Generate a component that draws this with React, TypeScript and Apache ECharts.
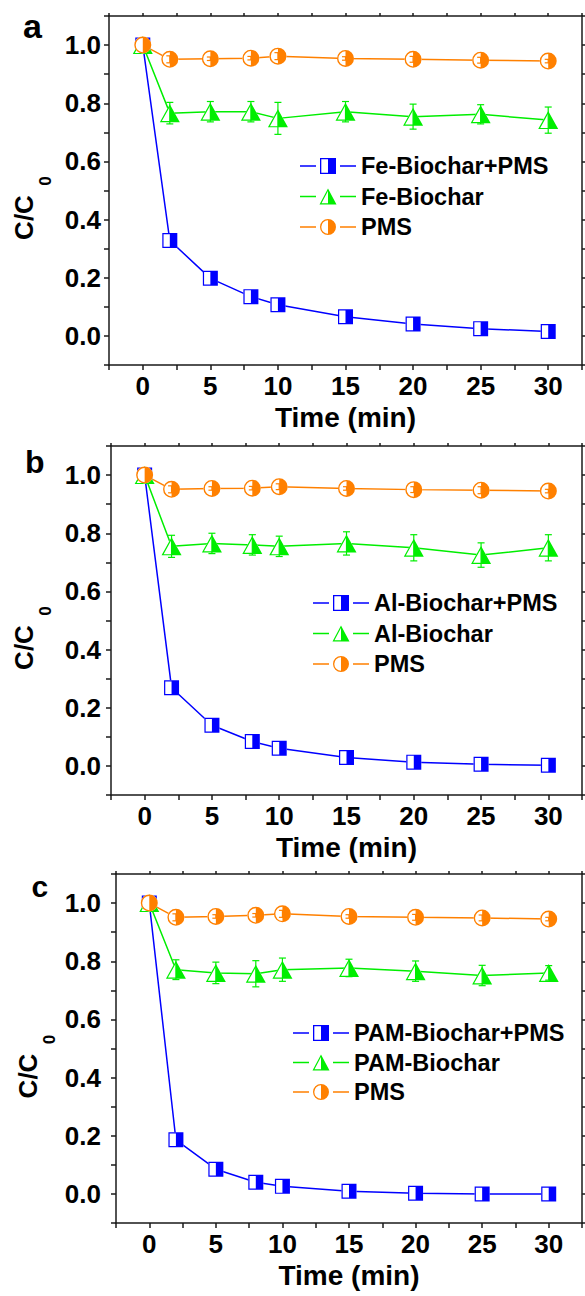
import React, { useEffect, useRef } from 'react';
import * as echarts from 'echarts';

// ---------------- data ----------------
const times = [0, 2, 5, 8, 10, 15, 20, 25, 30];
const xTickValues = [0, 5, 10, 15, 20, 25, 30];
const yTickValues = [0, 0.2, 0.4, 0.6, 0.8, 1.0];
const panelLetters = ['a', 'b', 'c'];
const xTitle = 'Time (min)';
const yTitleMain = 'C/C';
const yTitleSub = '0';

const namesA = ['Fe-Biochar+PMS', 'Fe-Biochar', 'PMS'];
const namesB = ['Al-Biochar+PMS', 'Al-Biochar', 'PMS'];
const namesC = ['PAM-Biochar+PMS', 'PAM-Biochar', 'PMS'];

const feBiocharPms = [1.0, 0.328, 0.198, 0.135, 0.107, 0.066, 0.041, 0.025, 0.015];
const feBiochar = [1.0, 0.766, 0.771, 0.771, 0.748, 0.771, 0.754, 0.762, 0.742];
const feBiocharErr = [0, 0.037, 0.035, 0.035, 0.055, 0.035, 0.043, 0.033, 0.045];
const pmsA = [1.0, 0.951, 0.953, 0.955, 0.962, 0.954, 0.951, 0.948, 0.945];
const pmsAErr = [0, 0.012, 0.006, 0.006, 0.012, 0.006, 0.01, 0.01, 0.006];

const alBiocharPms = [1.0, 0.269, 0.14, 0.084, 0.061, 0.029, 0.013, 0.006, 0.002];
const alBiochar = [1.0, 0.755, 0.765, 0.76, 0.755, 0.765, 0.75, 0.725, 0.75];
const alBiocharErr = [0, 0.038, 0.035, 0.035, 0.035, 0.04, 0.045, 0.042, 0.045];
const pmsB = [1.0, 0.951, 0.954, 0.955, 0.96, 0.954, 0.95, 0.948, 0.945];
const pmsBErr = [0, 0.012, 0.006, 0.006, 0.01, 0.006, 0.01, 0.012, 0.006];

const pamBiocharPms = [1.0, 0.186, 0.085, 0.04, 0.026, 0.009, 0.002, 0.0, 0.0];
const pamBiochar = [1.0, 0.771, 0.76, 0.757, 0.771, 0.777, 0.766, 0.751, 0.76];
const pamBiocharErr = [0, 0.034, 0.037, 0.045, 0.04, 0.03, 0.035, 0.035, 0.025];
const pmsC = [1.0, 0.951, 0.954, 0.958, 0.963, 0.954, 0.951, 0.949, 0.945];
const pmsCErr = [0, 0.012, 0.006, 0.006, 0.012, 0.006, 0.01, 0.01, 0.006];

// ---------------- styles / layout ----------------
const BLUE = '#0000ff';
const GREEN = '#00ee00';
const ORANGE = '#ff8000';
const AXIS = '#1a1a1a';
const FONT = '"Liberation Sans", Arial, Helvetica, sans-serif';

const SQ = 'path://M0 0H16V16H0Z M1.3 1.3V14.7H8V1.3Z';
const SQ_MASK = 'path://M0 0H16V16H0Z';
const CIRC = 'path://M8 0A8 8 0 0 1 8 16A8 8 0 0 1 8 0Z M8 1.3A6.7 6.7 0 0 0 8 14.7Z';
const CIRC_MASK = 'path://M8 0A8 8 0 0 1 8 16A8 8 0 0 1 8 0Z';
const TRI = 'path://M10 0L20 18L0 18Z M10 2.5L2.05 16.8L10 16.8Z';
const TRI_MASK = 'path://M10 0L20 18L0 18Z';

const LEG_SQ = 'path://M0 7.25H16V8.75H0Z M20 0H36V16H20Z M21.3 1.3V14.7H28V1.3Z M40 7.25H56V8.75H40Z';
const LEG_TRI = 'path://M0 7.25H16V8.75H0Z M28 0L36.5 16L19.5 16Z M28 2.6L21.5 14.8L28 14.8Z M40 7.25H56V8.75H40Z';
const LEG_CIRC = 'path://M0 7.25H16V8.75H0Z M28 0A8 8 0 0 1 28 16A8 8 0 0 1 28 0Z M28 1.3A6.7 6.7 0 0 0 28 14.7Z M40 7.25H56V8.75H40Z';

const layouts = [
  { grid: { left: 109, top: 16, width: 476, height: 349 }, yMargin: 8, legend: { left: 300, top: 154, gap: 6.5 }, letter: { x: 23, y: 25.5, size: 34 }, yTitle: { x: 24, y: 217.5, sx: 45.5, sy: 181 } },
  { grid: { left: 111, top: 446, width: 476, height: 349 }, yMargin: 10, legend: { left: 313, top: 591, gap: 6.5 }, letter: { x: 25, y: 462, size: 32 }, yTitle: { x: 24, y: 647.5, sx: 45.5, sy: 611 } },
  { grid: { left: 116, top: 874, width: 476, height: 349 }, yMargin: 15, legend: { left: 293, top: 1021, gap: 5.5 }, letter: { x: 31.5, y: 886.5, size: 30 }, yTitle: { x: 28, y: 1076, sx: 49.5, sy: 1039.5 } },
];

const panels = [
  { names: namesA, sets: [feBiocharPms, feBiochar, pmsA], errs: [null, feBiocharErr, pmsAErr] },
  { names: namesB, sets: [alBiocharPms, alBiochar, pmsB], errs: [null, alBiocharErr, pmsBErr] },
  { names: namesC, sets: [pamBiocharPms, pamBiochar, pmsC], errs: [null, pamBiocharErr, pmsCErr] },
];

const kinds = [
  { color: BLUE, marker: SQ, mask: SQ_MASK, size: [15, 15], legendIcon: LEG_SQ },
  { color: GREEN, marker: TRI, mask: TRI_MASK, size: [20, 18], legendIcon: LEG_TRI },
  { color: ORANGE, marker: CIRC, mask: CIRC_MASK, size: [17, 17], legendIcon: LEG_CIRC },
];

function errRender(color: string) {
  return (params: any, api: any) => {
    const x = api.value(0);
    const y = api.value(1);
    const e = api.value(2);
    if (!e) return { type: 'group', children: [] };
    const top = api.coord([x, y + e]);
    const bot = api.coord([x, y - e]);
    const hw = 3.5;
    const style = { stroke: color, lineWidth: 1.2 };
    return {
      type: 'group',
      children: [
        { type: 'line', shape: { x1: top[0], y1: top[1], x2: bot[0], y2: bot[1] }, style },
        { type: 'line', shape: { x1: top[0] - hw, y1: top[1], x2: top[0] + hw, y2: top[1] }, style },
        { type: 'line', shape: { x1: bot[0] - hw, y1: bot[1], x2: bot[0] + hw, y2: bot[1] }, style },
      ],
    };
  };
}

function buildOption() {
  const grid: any[] = [];
  const xAxis: any[] = [];
  const yAxis: any[] = [];
  const series: any[] = [];
  const legend: any[] = [];
  const graphic: any[] = [];
  const axisLineStyle = { color: AXIS, width: 1.5 };
  const labelFont = { fontFamily: FONT, fontWeight: 'bold', fontSize: 26, color: '#000' };

  panels.forEach((panel, p) => {
    const L = layouts[p];
    grid.push({ ...L.grid, containLabel: false });
    const xBase = {
      type: 'value', gridIndex: p, min: -2.5, max: 32.5, interval: 2.5,
      splitLine: { show: false },
      axisLine: { show: true, onZero: false, lineStyle: axisLineStyle },
    };
    xAxis.push({
      ...xBase, position: 'bottom',
      axisTick: { show: true, inside: false, length: 5, lineStyle: axisLineStyle },
      axisLabel: {
        ...labelFont, margin: 8,
        formatter: (v: number) => (xTickValues.some((t) => Math.abs(t - v) < 1e-6) ? String(Math.round(v)) : ''),
      },
      name: xTitle, nameLocation: 'middle', nameGap: 38.5,
      nameTextStyle: { fontFamily: FONT, fontWeight: 'bold', fontSize: 28, color: '#000' },
    });
    xAxis.push({
      ...xBase, position: 'top',
      axisTick: { show: true, inside: false, length: 3, lineStyle: axisLineStyle },
      axisLabel: { show: false },
    });
    const yBase = {
      type: 'value', gridIndex: p, min: -0.1, max: 1.1, interval: 0.1,
      splitLine: { show: false },
      axisLine: { show: true, onZero: false, lineStyle: axisLineStyle },
    };
    yAxis.push({
      ...yBase, position: 'left',
      axisTick: { show: true, inside: false, length: 5, lineStyle: axisLineStyle },
      axisLabel: {
        ...labelFont, margin: L.yMargin,
        formatter: (v: number) => (yTickValues.some((t) => Math.abs(t - v) < 1e-6) ? v.toFixed(1) : ''),
      },
    });
    yAxis.push({
      ...yBase, position: 'right',
      axisTick: { show: true, inside: false, length: 3, lineStyle: axisLineStyle },
      axisLabel: { show: false },
    });

    const xi = p * 2;
    const yi = p * 2;
    // lines
    panel.sets.forEach((vals, k) => {
      series.push({
        type: 'line', name: panel.names[k], xAxisIndex: xi, yAxisIndex: yi,
        data: times.map((t, i) => [t, vals[i]]),
        symbol: kinds[k].marker, symbolSize: kinds[k].size, showSymbol: false,
        lineStyle: { color: kinds[k].color, width: 1.5 },
        itemStyle: { color: kinds[k].color },
        z: 2, silent: true,
      });
    });
    panel.sets.forEach((vals, k) => {
      const data = times.map((t, i) => [t, vals[i]]);
      series.push({
        type: 'scatter', xAxisIndex: xi, yAxisIndex: yi, data,
        symbol: kinds[k].mask, symbolSize: kinds[k].size,
        itemStyle: { color: '#ffffff', opacity: 1 }, z: 3 + k * 2, silent: true,
      });
      series.push({
        type: 'scatter', xAxisIndex: xi, yAxisIndex: yi, data,
        symbol: kinds[k].marker, symbolSize: kinds[k].size,
        itemStyle: { color: kinds[k].color, opacity: 1, borderWidth: 0 }, z: 4 + k * 2, silent: true,
      });
      const errs = panel.errs[k];
      if (errs) {
        series.push({
          type: 'custom', xAxisIndex: xi, yAxisIndex: yi,
          data: times.map((t, i) => [t, vals[i], errs[i]]),
          encode: { x: 0, y: 1 },
          renderItem: errRender(kinds[k].color),
          z: 4 + k * 2, silent: true,
        });
      }
    });

    legend.push({
      orient: 'vertical', left: L.legend.left, top: L.legend.top, padding: 0,
      itemWidth: 56, itemHeight: 16, itemGap: L.legend.gap, selectedMode: false,
      align: 'left',
      itemStyle: { borderWidth: 0 },
      textStyle: { fontFamily: FONT, fontWeight: 'bold', fontSize: 23.5, color: '#000', lineHeight: 24 },
      data: panel.names.map((n, k) => ({ name: n, icon: kinds[k].legendIcon })),
    });

    graphic.push({
      type: 'text', x: L.letter.x, y: L.letter.y, silent: true,
      style: { text: panelLetters[p], fontFamily: FONT, fontWeight: 'bold', fontSize: L.letter.size, fill: '#000', align: 'left', verticalAlign: 'middle' },
    });
    graphic.push({
      type: 'text', x: L.yTitle.x, y: L.yTitle.y, rotation: Math.PI / 2, silent: true,
      style: { text: yTitleMain, fontFamily: FONT, fontWeight: 'bold', fontSize: 26, fill: '#000', align: 'center', verticalAlign: 'middle' },
    });
    graphic.push({
      type: 'text', x: L.yTitle.sx, y: L.yTitle.sy, rotation: Math.PI / 2, silent: true,
      style: { text: yTitleSub, fontFamily: FONT, fontWeight: 'bold', fontSize: 17, fill: '#000', align: 'center', verticalAlign: 'middle' },
    });
  });

  return { animation: false, backgroundColor: '#ffffff', grid, xAxis, yAxis, series, legend, graphic };
}

export default function App() {
  const ref = useRef<HTMLDivElement>(null);
  useEffect(() => {
    document.body.style.margin = '0';
    if (!ref.current) return;
    const chart = echarts.init(ref.current, null, { renderer: 'svg' });
    chart.setOption(buildOption() as any);
    return () => chart.dispose();
  }, []);
  return <div ref={ref} style={{ position: 'absolute', left: 0, top: 0, width: 585, height: 1296 }} />;
}
